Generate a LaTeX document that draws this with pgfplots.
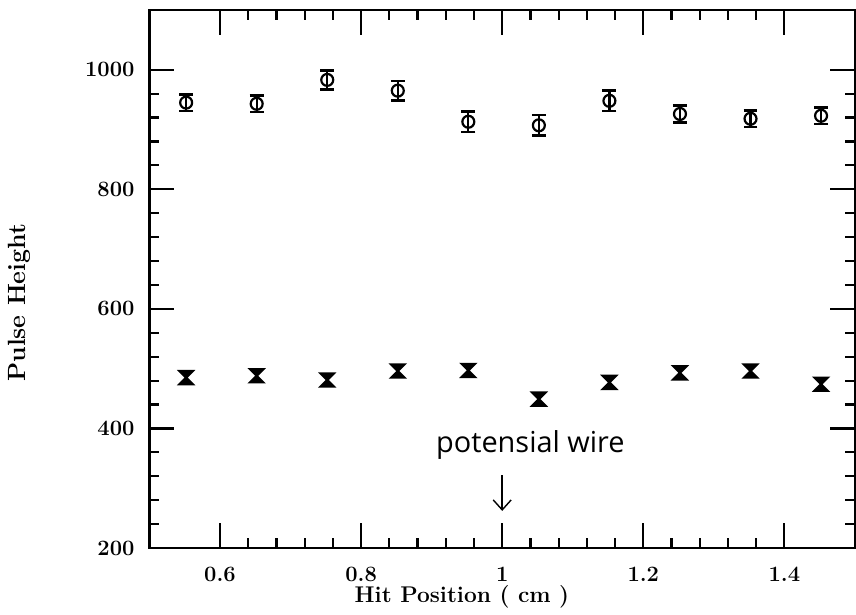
\documentclass[border=0pt]{standalone}
\usepackage{pgfplots}
\pgfplotsset{compat=1.18}
\usetikzlibrary{arrows.meta}
\usepackage{fontspec}
\newfontfamily\handfont{Open Sans}

% filled bow-tie ("hourglass") marker
\pgfdeclareplotmark{hourglass}{%
  \pgfpathmoveto{\pgfqpoint{-\pgfplotmarksize}{\pgfplotmarksize}}%
  \pgfpathlineto{\pgfqpoint{\pgfplotmarksize}{\pgfplotmarksize}}%
  \pgfpathlineto{\pgfqpoint{-\pgfplotmarksize}{-\pgfplotmarksize}}%
  \pgfpathlineto{\pgfqpoint{\pgfplotmarksize}{-\pgfplotmarksize}}%
  \pgfpathclose
  \pgfusepathqfillstroke}

% hit position, pulse height, error
\pgfplotstableread{
x      y     e
0.552  945   14
0.652  943   14
0.752  983   16
0.852  965   16
0.952  913   17
1.052  907   17
1.152  948   17
1.252  926   14
1.352  918   14
1.452  923   14
}\upperdata

\pgfplotstableread{
x      y     e
0.552  485   8
0.652  488   8
0.752  481   8
0.852  496   8
0.952  497   8
1.052  449   8
1.152  477   8
1.252  493   8
1.352  496   8
1.452  474   8
}\lowerdata

\begin{document}
\begin{tikzpicture}
\begin{axis}[
  name=ax,
  scale only axis,
  width=354pt, height=270pt,
  xmin=0.5, xmax=1.5,
  ymin=200, ymax=1100,
  xtick={0.6,0.8,1,1.2,1.4},
  ytick={200,400,600,800,1000},
  minor x tick num=4,
  minor y tick num=4,
  tick align=inside,
  major tick length=12.5pt,
  minor tick length=5pt,
  every tick/.style={black, line width=1.1pt},
  axis line style={line width=1.1pt},
  /pgf/number format/1000 sep={},
  /pgf/number format/assume math mode=true,
  ticklabel style={font=\bfseries\fontsize{11}{13}\selectfont},
  xticklabel style={yshift=-6pt},
  yticklabel style={xshift=-4pt},
  xlabel={\bfseries Hit Position ( cm )},
  ylabel={\bfseries Pulse Height},
  xlabel style={at={(axis description cs:0.443,-0.0907)}, anchor=center,
    font=\fontsize{11.4}{13}\selectfont},
  ylabel style={at={(axis description cs:-0.184,0.456)}, anchor=center,
    font=\fontsize{12.5}{14}\selectfont},
  clip=false,
]
\addplot[only marks, mark=o, mark size=3pt, line width=1.1pt, black,
  error bars/.cd, y dir=both, y explicit,
  error bar style={line width=1.1pt},
  error mark options={rotate=90, mark size=3.5pt, line width=1.3pt}]
  table[x=x, y=y, y error=e] {\upperdata};

\addplot[only marks, mark=hourglass, mark size=3.3pt, line width=1.1pt, black,
  mark options={fill=black}]
  table[x=x, y=y] {\lowerdata};

\node[font=\handfont\fontsize{14.5}{16}\selectfont, anchor=center]
  at (axis cs:1.04,372) {potensial wire};
\draw[-{Straight Barb[length=5pt,width=9pt]}, line width=0.7pt]
  (axis cs:1.0,322) -- (axis cs:1.0,262);
\end{axis}
\useasboundingbox ([xshift=-75pt,yshift=-33pt]ax.south west)
  rectangle ([xshift=-2.5pt,yshift=5pt]ax.north east);
\end{tikzpicture}
\end{document}
